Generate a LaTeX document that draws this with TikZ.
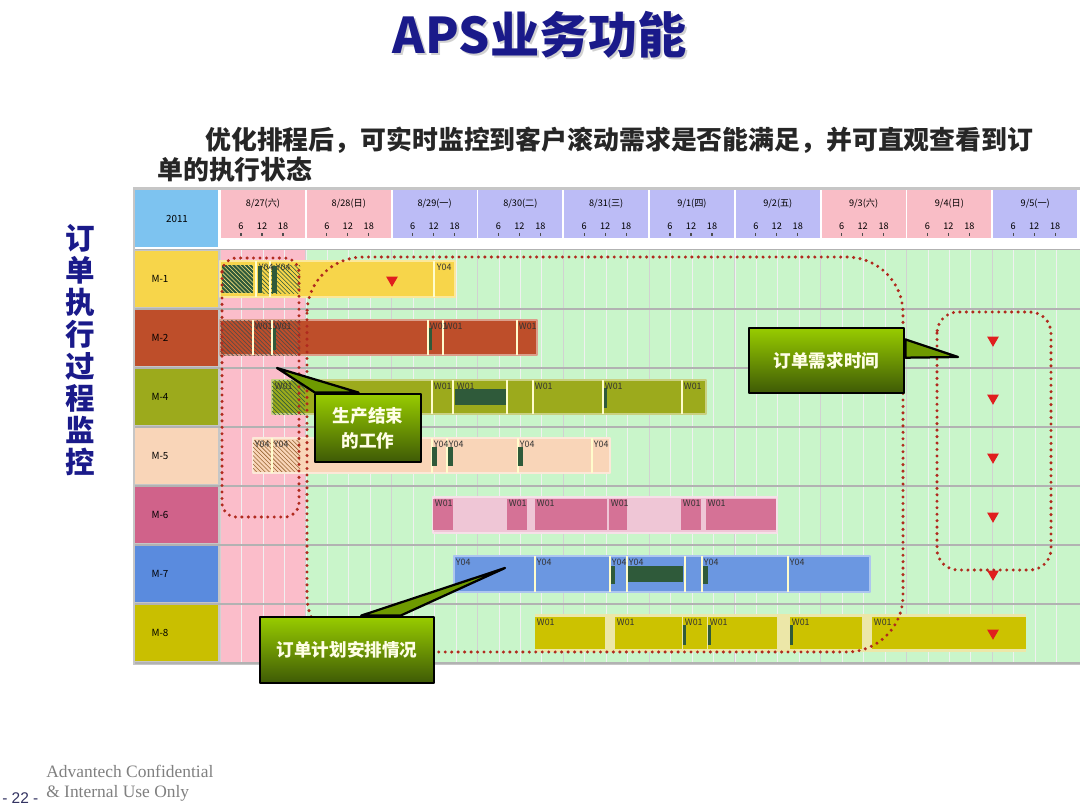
\documentclass[tikz,border=0pt]{standalone}
\usepackage{fontspec}
\setmainfont{Noto Sans CJK SC}
\newfontfamily\footserif{Liberation Serif}
\newfontfamily\footsans{Liberation Sans}
\usetikzlibrary{patterns,shapes.geometric}
\definecolor{titleblue}{HTML}{1A1A8A}
\definecolor{yearblue}{HTML}{7DC3F0}
\definecolor{daypink}{HTML}{F9BDC6}
\definecolor{daylav}{HTML}{BCBCF6}
\definecolor{rowpink}{HTML}{FBBDCA}
\definecolor{rowgreen}{HTML}{C9F5CA}
\definecolor{m1}{HTML}{F7D54A}
\definecolor{m2}{HTML}{BE4E2A}
\definecolor{m4}{HTML}{9CAA1C}
\definecolor{m5}{HTML}{F9D5B8}
\definecolor{m6}{HTML}{D0628A}
\definecolor{m7}{HTML}{5A8BDE}
\definecolor{m8}{HTML}{C9BF00}
\definecolor{bar6l}{HTML}{EFC6D6}
\definecolor{bar8l}{HTML}{ECE7A8}
\definecolor{darkg}{HTML}{2F5A3A}
\definecolor{trired}{HTML}{E01E1E}
\definecolor{dotred}{HTML}{B02A1E}
\definecolor{calltop}{HTML}{98CC00}
\definecolor{callbot}{HTML}{3E5A06}
\definecolor{callmid}{HTML}{6E9A00}
\begin{document}
\begin{tikzpicture}[x=0.025cm, y=-0.025cm, font=\fontsize{7}{8}\selectfont, line join=round,
  tag/.style={font=\fontsize{6.3}{7}\selectfont, anchor=north west, inner sep=0.5pt, text=black!80},
  bar/.style={fill=#1, draw=#1!55!white, line width=0.8pt},
  sepline/.style={draw=white!80!yellow, line width=0.8pt},
  dtri/.style={fill=trired, regular polygon, regular polygon sides=3, shape border rotate=180, minimum size=0.34cm, inner sep=0pt},
  redloop/.style={draw=dotred, line width=2.4pt, line cap=round, dash pattern=on 0pt off 4.6pt},
  callout/.style={draw=black, line width=2pt, top color=calltop, bottom color=callbot, text=white!90!yellow, font=\bfseries\fontsize{12.5}{18}\selectfont, align=center, inner sep=0pt},
  wedge/.style={fill=callmid, draw=black, line width=1.6pt}]
\useasboundingbox (0,0) rectangle (1080,810);
\fill[white] (0,0) rectangle (1080,810);

% title and intro
\node[text=black!18, font=\bfseries\fontsize{35}{40}\selectfont] (titleshade) at (542,37) {APS业务功能};
\node[text=titleblue, font=\bfseries\fontsize{35}{40}\selectfont] (title) at (540,35) {APS业务功能};
\node[anchor=west, inner sep=0pt, text=black!85, font=\bfseries\fontsize{18.4}{22}\selectfont] (intro1) at (205,140) {优化排程后，可实时监控到客户滚动需求是否能满足，并可直观查看到订};
\node[anchor=west, inner sep=0pt, text=black!85, font=\bfseries\fontsize{18.4}{22}\selectfont] (intro2) at (157,170) {单的执行状态};
\node[text=titleblue, font=\bfseries\fontsize{21}{22.8}\selectfont, align=center] (side) at (80,350) {订\\单\\执\\行\\过\\程\\监\\控};

% chart frame and header
\fill[gray!45] (133,187) rectangle (1080,665);
\fill[white] (135,190) rectangle (1080,249);
\fill[yearblue] (135,190) rectangle (218,247);
\node (year) at (177,219) {2011};
\foreach \m/\d/\w/\c [count=\i from 0] in {8/27/六/daypink,8/28/日/daypink,8/29/一/daylav,8/30/二/daylav,8/31/三/daylav,9/1/四/daylav,9/2/五/daylav,9/3/六/daypink,9/4/日/daypink,9/5/一/daylav}{
  \fill[\c] (220+85.8*\i+1,190) rectangle (220+85.8*\i+85,238);
  \node[font=\fontsize{6.5}{7}\selectfont] (day\i) at (220+85.8*\i+43,204) {\m/\d(\w)};
  \foreach \h/\o in {6/21,12/42,18/63}{
    \node[font=\fontsize{6.5}{7}\selectfont] (hr\i-\h) at (220+85.8*\i+\o,226) {\h};
    \draw[black!70, line width=0.8pt] (220+85.8*\i+\o,233) -- (220+85.8*\i+\o,235.5);
  }
}

% row background
\fill[rowpink] (220,249) rectangle (305,663);
\fill[rowgreen] (305,249) rectangle (1080,663);
\foreach \i in {0,...,39}
  \draw[black!6, line width=0.4pt] (220+21.45*\i,249) -- (220+21.45*\i,663);
\foreach \i in {0,...,9}
  \draw[black!18, line width=0.6pt] (220+85.8*\i,249) -- (220+85.8*\i,663);
\draw[gray!60, line width=1.2pt] (135,249.5) -- (1080,249.5);
\foreach \n/\c [count=\i from 0] in {M-1/m1,M-2/m2,M-4/m4,M-5/m5,M-6/m6,M-7/m7,M-8/m8}{
  \fill[\c] (135,251+59*\i) rectangle (218,307+59*\i);
  \node (lab\i) at (160,279+59*\i) {\n};
  \draw[gray!60, line width=1.2pt] (135,309+59*\i) -- (1080,309+59*\i);
}

% M-1
\draw[bar=m1] (220,261) rectangle (455,297);
\fill[darkg] (222,265) rectangle (253,293);
\fill[pattern=north west lines, pattern color=m1!70!white] (222,265) rectangle (253,293);
\fill[pattern=north west lines, pattern color=darkg] (262,265) rectangle (300,293);
\fill[darkg] (258,266) rectangle (262,293);
\fill[darkg] (272,266) rectangle (277,293);
\foreach \x in {256,270,434} \draw[sepline] (\x,261) -- (\x,297);
\foreach \x [count=\k] in {258,275,436} \node[tag] (y1-\k) at (\x,263) {Y04};
\node[dtri] (due1) at (392,280) {};

% M-2
\draw[bar=m2] (220,320) rectangle (537,355);
\fill[pattern=north west lines, pattern color=black!70] (220,320) rectangle (300,355);
\foreach \x in {253,272,428,443,517} \draw[sepline] (\x,320) -- (\x,355);
\foreach \x in {273,429} \fill[darkg] (\x,328) rectangle (\x+2.5,350);
\foreach \x [count=\k] in {254,273,429,444,518} \node[tag] (w2-\k) at (\x,322) {W01};

% M-4
\draw[bar=m4] (272,380) rectangle (706,414);
\fill[pattern=north west lines, pattern color=darkg] (272,380) rectangle (305,414);
\fill[darkg] (455,389) rectangle (507,405);
\foreach \x in {432,453,507,533,603,682} \draw[sepline] (\x,380) -- (\x,414);
\fill[darkg] (604,388) rectangle (606.5,408);
\foreach \x [count=\k] in {274,433,456,534,604,683} \node[tag] (w4-\k) at (\x,382) {W01};

% M-5
\draw[bar=m5] (253,438) rectangle (610,473);
\fill[pattern=north west lines, pattern color=brown!80!black] (253,440) rectangle (300,471);
\foreach \x in {272,432,447,518,592} \draw[sepline] (\x,438) -- (\x,473);
\foreach \x in {432,448,518} \fill[darkg] (\x,447) rectangle (\x+5,466);
\foreach \x [count=\k] in {254,273,433,448,519,593} \node[tag] (y5-\k) at (\x,440) {Y04};

% M-6
\draw[bar=bar6l] (433,497) rectangle (777,533);
\foreach \a/\b in {433/453,507/527,535/607,609/627,681/701,706/776}
  \fill[m6!90!white] (\a,499) rectangle (\b,530);
\foreach \x [count=\k] in {434,508,536,610,682,707} \node[tag] (w6-\k) at (\x,499) {W01};

% M-7
\draw[bar=m7!90!white] (454,556) rectangle (870,592);
\foreach \x in {535,610,627,685,702,788} \draw[sepline] (\x,556) -- (\x,592);
\fill[darkg] (611,566) rectangle (615,584);
\fill[darkg] (628,566) rectangle (683,582);
\fill[darkg] (703,566) rectangle (708,584);
\foreach \x [count=\k] in {455,536,611,628,703,789} \node[tag] (y7-\k) at (\x,558) {Y04};

% M-8
\fill[bar8l] (535,614) rectangle (1026,652);
\foreach \a/\b in {535/605,615/682,683/707,708/777,790/862,872/1026}
  \fill[m8!95!yellow] (\a,617) rectangle (\b,649);
\foreach \x in {683,708,790} \fill[darkg] (\x,625) rectangle (\x+2.5,645);
\foreach \x [count=\k] in {536,616,684,709,791,873} \node[tag] (w8-\k) at (\x,618) {W01};

% due dates
\foreach \y [count=\k] in {340,398,457,516,574,633} \node[dtri] (due9-\k) at (993,\y) {};

% dotted outlines
\draw[redloop, rounded corners=10pt] (222,258) rectangle (299,517);
\draw[redloop, rounded corners=40pt] (307,257) rectangle (903,652);
\draw[redloop, rounded corners=15pt] (937,312) rectangle (1051,570);

% callouts
\node[callout, minimum width=2.65cm, minimum height=1.7cm] (doneBox) at (368,428) {生产结束\\的工作};
\coordinate (doneTip) at (277,368);
\filldraw[wedge] ([xshift=1pt]doneBox.north west) -- (doneTip) -- ([xshift=32pt]doneBox.north west) -- cycle;

\node[callout, minimum width=3.875cm, minimum height=1.625cm] (needBox) at (826.5,360.5) {订单需求时间};
\coordinate (needTip) at (958,357);
\filldraw[wedge] ([yshift=15pt]needBox.east) -- (needTip) -- ([yshift=2pt]needBox.east) -- cycle;

\node[callout, minimum width=4.35cm, minimum height=1.65cm] (planBox) at (347,650) {订单计划安排情况};
\coordinate (planTip) at (505,568);
\filldraw[wedge] ([xshift=73pt]planBox.north west) -- (planTip) -- ([xshift=101pt]planBox.north west) -- cycle;

% footer
\node[anchor=west, inner sep=0pt, text=black!50, font=\footserif\fontsize{12.4}{13}\selectfont] (conf1) at (46,771) {Advantech Confidential};
\node[anchor=west, inner sep=0pt, text=black!50, font=\footserif\fontsize{12.4}{13}\selectfont] (conf2) at (46,793) {\& Internal Use Only};
\node[anchor=west, inner sep=0pt, text=black!70!blue!60!gray, font=\footsans\fontsize{11}{12}\selectfont] (page) at (2,798) {- 22 -};
\end{tikzpicture}
\end{document}
